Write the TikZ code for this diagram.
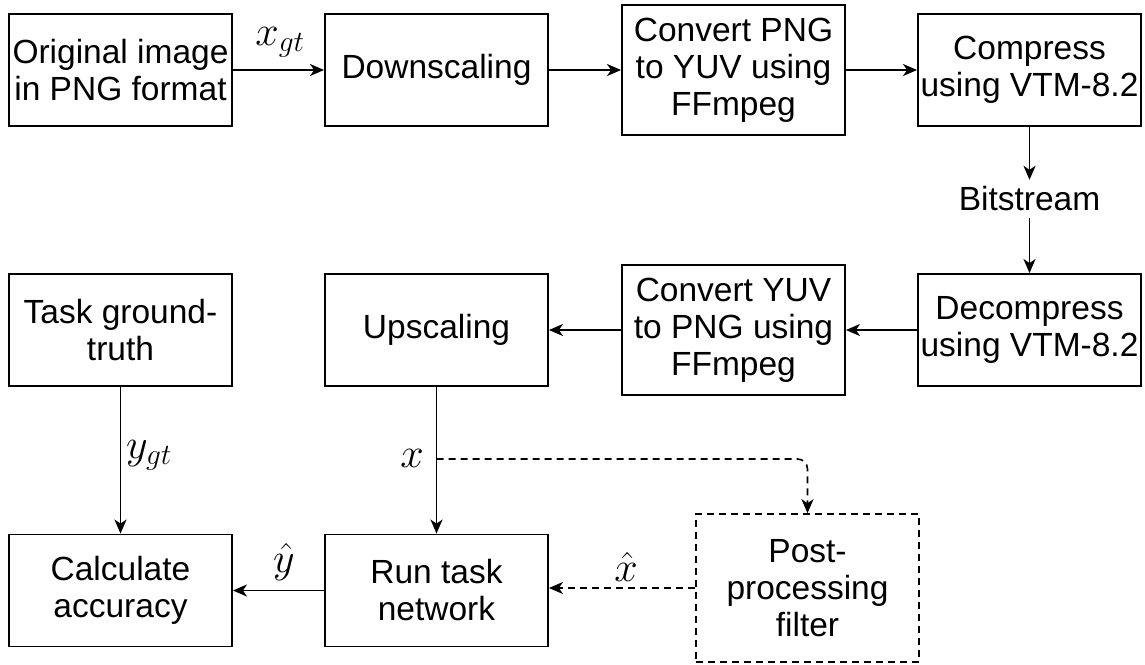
\RequirePackage{fix-cm}
\documentclass[tikz,border=0pt]{standalone}
\usepackage{fontspec}
\setmainfont{Liberation Sans}
\usetikzlibrary{arrows.meta}

\newcommand\boxfont{\fontsize{33.5}{37}\selectfont}
\newcommand\mathlabelfont{\fontsize{42}{44}\selectfont}

\tikzset{
  box/.style={draw, line width=1.9pt, minimum width=223pt, minimum height=112pt,
    inner sep=0pt, align=center, font=\boxfont},
  tallbox/.style={box, minimum height=130pt},
  flow/.style={line width=1.9pt, -{Stealth[length=14pt,width=12pt,inset=4pt]}},
  dashflow/.style={flow, line width=1.6pt, dash pattern=on 7pt off 5pt},
  mathlab/.style={inner sep=0pt, font=\mathlabelfont},
  textlab/.style={inner sep=0pt, font=\boxfont}
}

\begin{document}
\begin{tikzpicture}[x=1pt, y=-1pt]
  \useasboundingbox (0,0) rectangle (1145,664);

  % top row: encoder side
  \node[box]     (orig)   at (120.5,70)  {Original image\\in PNG format};
  \node[box]     (down)   at (436.5,70)  {Downscaling};
  \node[tallbox] (cpng)   at (733.5,70)  {Convert PNG\\to YUV using\\FFmpeg};
  \node[box]     (comp)   at (1029.5,70) {Compress\\using VTM-8.2};

  % bitstream between encoder and decoder
  \node[textlab, minimum height=38pt] (bits) at (1029.5,199) {Bitstream};

  % middle row: decoder side
  \node[box]     (decomp) at (1029.5,330) {Decompress\\using VTM-8.2};
  \node[tallbox] (cyuv)   at (733.5,330)  {Convert YUV\\to PNG using\\FFmpeg};
  \node[box]     (up)     at (436.5,330)  {Upscaling};
  \node[box]     (task)   at (120.5,330)  {Task ground-\\truth};

  % bottom row: evaluation
  \node[box]     (calc)   at (120.5,590.5) {Calculate\\accuracy};
  \node[box]     (run)    at (436.5,590.5) {Run task\\network};
  \node[box, dashed, dash pattern=on 7pt off 5pt, line width=1.6pt,
        minimum height=148pt] (post) at (807.5,588) {Post-\\processing\\filter};

  % connectors
  \draw[flow] (orig.east) -- (down.west);
  \draw[flow] (down.east) -- (cpng.west);
  \draw[flow] (cpng.east) -- (comp.west);
  \draw[flow] (comp.south) -- (bits.north);
  \draw[flow] (bits.south) -- (decomp.north);
  \draw[flow] (decomp.west) -- (cyuv.east);
  \draw[flow] (cyuv.west) -- (up.east);
  \draw[flow] (task.south) -- (calc.north);
  \draw[flow] (up.south) -- (run.north);
  \draw[flow] (run.west) -- (calc.east);
  \coordinate (xsplit) at (436.5,459);
  \draw[dashflow, rounded corners=10pt] (xsplit) -- (xsplit -| post.north) -- (post.north);
  \draw[dashflow] (post.west) -- (post.west -| run.east);

  % signal labels
  \node[mathlab] (lxgt) at (280,42)  {$x_{gt}$};
  \node[mathlab] (lygt) at (149,455) {$y_{gt}$};
  \node[mathlab] (lx)   at (412,458) {$x$};
  \node[mathlab] (lyh)  at (284,562) {$\hat{y}$};
  \node[mathlab] (lxh)  at (626,567) {$\hat{x}$};
\end{tikzpicture}
\end{document}
